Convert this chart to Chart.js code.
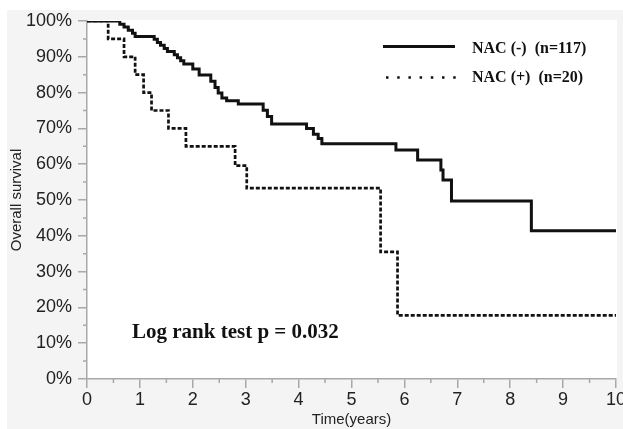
<!DOCTYPE html>
<html>
<head>
<meta charset="utf-8">
<script src="https://cdn.jsdelivr.net/npm/chart.js@4/dist/chart.umd.min.js"></script>
<style>
  body { margin: 0; background: #fff; }
  canvas { display: block; }
</style>
</head>
<body>
<canvas id="km" width="623" height="429"></canvas>
<script>
// Kaplan-Meier steps (time in years, survival in %)
const nacNegTimes = [0, 0.62, 0.70, 0.78, 0.86, 0.91, 1.27, 1.33, 1.39, 1.46, 1.52, 1.65, 1.71, 1.77, 1.83,
  2.00, 2.12, 2.34, 2.42, 2.48, 2.55, 2.64, 2.86, 3.33, 3.41, 3.49, 4.15, 4.28, 4.37, 4.44,
  5.84, 6.25, 6.69, 6.73, 6.89, 8.40, 10];
const nacNegSurv = [100, 99.1, 98.3, 97.4, 96.6, 95.7, 94.9, 94.0, 93.2, 92.3, 91.5, 90.6, 89.7, 88.9, 88.0,
  86.6, 84.9, 83.2, 81.4, 79.9, 78.5, 77.7, 76.8, 75.1, 73.3, 71.2, 70.0, 68.4, 67.2, 65.7,
  64.0, 61.2, 58.4, 55.6, 49.7, 41.4, 41.4];

const nacPosTimes = [0, 0.40, 0.70, 0.91, 1.07, 1.22, 1.54, 1.87, 2.80, 3.02, 5.55, 5.87, 10];
const nacPosSurv = [100, 95.0, 90.0, 85.0, 80.0, 75.0, 70.0, 65.0, 59.6, 53.3, 35.5, 17.8, 17.8];

const xTicks = [0, 1, 2, 3, 4, 5, 6, 7, 8, 9, 10];
const yTicks = [0, 10, 20, 30, 40, 50, 60, 70, 80, 90, 100];
const legendLabels = ['NAC (-)  (n=117)', 'NAC (+)  (n=20)'];
const pValueText = 'Log rank test p = 0.032';

const toPoints = (ts, ss) => ts.map((t, i) => ({ x: t, y: ss[i] }));
const axisColor = '#a8a8a8';

// gray panel behind, white plot area
const panelPlugin = {
  id: 'panel',
  beforeDraw(chart) {
    const c = chart.ctx, a = chart.chartArea;
    c.save();
    c.fillStyle = '#f4f4f4';
    c.fillRect(7, 10, chart.width - 7, chart.height - 10);
    c.fillStyle = '#ffffff';
    c.fillRect(a.left, a.top - 1, a.right - a.left + 1, a.bottom - a.top + 1);
    c.restore();
  }
};

// short minor ticks halfway between the labelled ones
const minorTicks = {
  id: 'minorTicks',
  afterDraw(chart) {
    const c = chart.ctx, xs = chart.scales.x, ys = chart.scales.y;
    c.save();
    c.strokeStyle = axisColor;
    c.lineWidth = 1.5;
    c.beginPath();
    for (let i = 0; i < xTicks.length - 1; i++) {
      const px = xs.getPixelForValue((xTicks[i] + xTicks[i + 1]) / 2);
      c.moveTo(px, xs.top);
      c.lineTo(px, xs.top + 4);
    }
    for (let i = 0; i < yTicks.length - 1; i++) {
      const py = ys.getPixelForValue((yTicks[i] + yTicks[i + 1]) / 2);
      c.moveTo(ys.right, py);
      c.lineTo(ys.right - 4, py);
    }
    c.stroke();
    c.restore();
  }
};

// legend and log-rank note in the plot
const notes = {
  id: 'notes',
  afterDraw(chart) {
    const c = chart.ctx;
    c.save();
    c.strokeStyle = '#111';
    c.lineWidth = 3;
    c.beginPath();
    c.moveTo(383, 46.5);
    c.lineTo(455, 46.5);
    c.stroke();
    c.setLineDash([2.5, 8.7]);
    c.lineWidth = 2.5;
    c.beginPath();
    c.moveTo(386, 77.5);
    c.lineTo(457, 77.5);
    c.stroke();
    c.setLineDash([]);
    c.fillStyle = '#111';
    c.textBaseline = 'alphabetic';
    c.font = 'bold 16px "Liberation Serif", "Times New Roman", serif';
    c.fillText(legendLabels[0], 472, 52.5);
    c.fillText(legendLabels[1], 472, 82);
    c.font = 'bold 21px "Liberation Serif", "Times New Roman", serif';
    c.fillText(pValueText, 132, 337.5);
    c.restore();
  }
};

new Chart(document.getElementById('km'), {
  type: 'line',
  data: {
    datasets: [{
      label: legendLabels[0],
      data: toPoints(nacNegTimes, nacNegSurv),
      borderColor: '#111',
      borderWidth: 3,
      stepped: 'before',
      pointRadius: 0,
      fill: false
    }, {
      label: legendLabels[1],
      data: toPoints(nacPosTimes, nacPosSurv),
      borderColor: '#111',
      borderWidth: 2.7,
      borderDash: [4, 2],
      stepped: 'before',
      pointRadius: 0,
      fill: false
    }]
  },
  options: {
    responsive: false,
    animation: false,
    layout: { padding: { left: 0, right: 7, top: 21, bottom: 0 } },
    plugins: { legend: { display: false }, tooltip: { enabled: false } },
    scales: {
      x: {
        type: 'linear',
        min: 0,
        max: 10,
        afterFit(scale) { scale.height = 50; scale.paddingLeft = 0; scale.paddingRight = 0; },
        afterBuildTicks(scale) { scale.ticks = xTicks.map(v => ({ value: v })); },
        ticks: {
          color: '#222',
          padding: 1,
          maxRotation: 0,
          font: { family: '"Liberation Sans", Arial, sans-serif', size: 18 }
        },
        grid: { drawOnChartArea: false, tickLength: 9, color: axisColor, lineWidth: 1.5 },
        border: { color: axisColor, width: 1.5 },
        title: {
          display: true,
          text: 'Time(years)',
          color: '#222',
          padding: { top: 0, bottom: 0 },
          font: { family: '"Liberation Sans", Arial, sans-serif', size: 15 }
        }
      },
      y: {
        min: 0,
        max: 100,
        afterFit(scale) { scale.width = 87; },
        afterBuildTicks(scale) { scale.ticks = yTicks.map(v => ({ value: v })); },
        ticks: {
          color: '#222',
          padding: 6,
          callback: v => v + '%',
          font: { family: '"Liberation Sans", Arial, sans-serif', size: 18 }
        },
        grid: { drawOnChartArea: false, tickLength: 9, color: axisColor, lineWidth: 1.5 },
        border: { color: axisColor, width: 1.5 },
        title: {
          display: true,
          text: 'Overall survival',
          color: '#222',
          padding: { top: 8, bottom: 0 },
          font: { family: '"Liberation Sans", Arial, sans-serif', size: 15 }
        }
      }
    }
  },
  plugins: [panelPlugin, minorTicks, notes]
});
</script>
</body>
</html>
